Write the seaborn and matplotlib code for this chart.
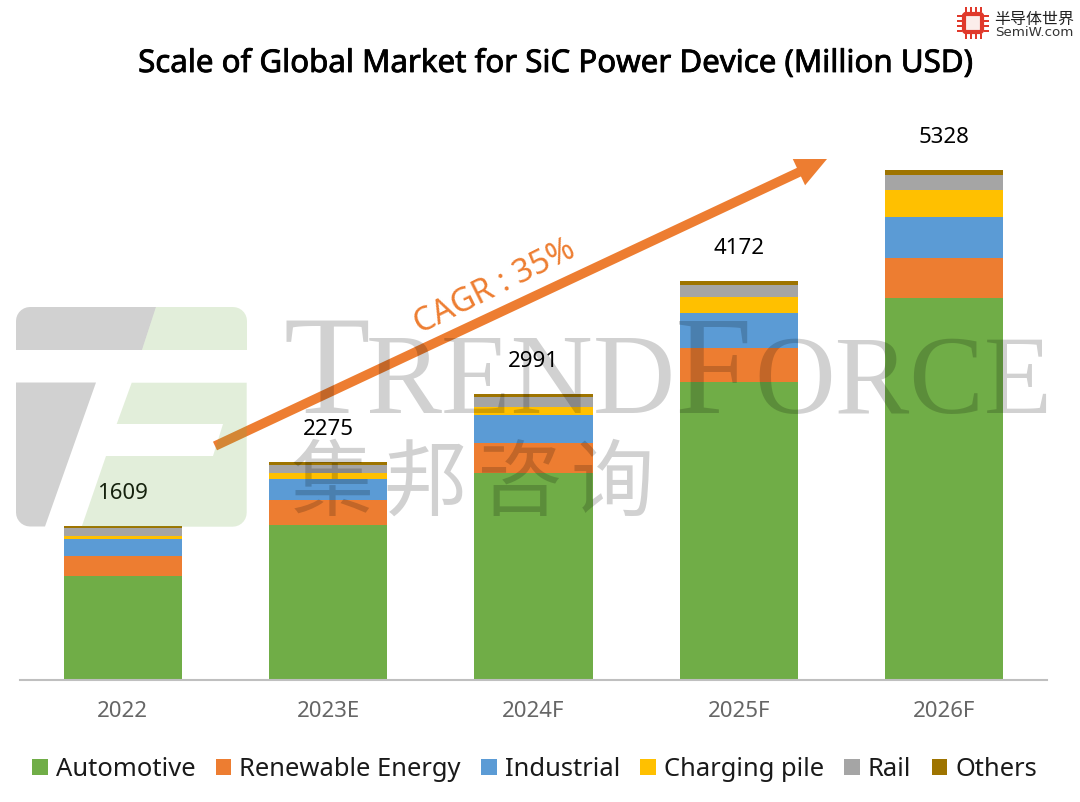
import matplotlib
matplotlib.use('Agg')
import matplotlib.pyplot as plt
import matplotlib.patheffects as pe
from matplotlib.patches import FancyArrow, FancyBboxPatch, Polygon, Rectangle
import numpy as np
import seaborn as sns

years = ['2022', '2023E', '2024F', '2025F', '2026F']
totals = [1609, 2275, 2991, 4172, 5328]

automotive = [1087, 1620, 2166, 3111, 3995]
renewable = [212, 258, 307, 358, 415]
industrial = [175, 223, 293, 366, 432]
charging = [35, 60, 84, 167, 282]
rail = [80, 87, 105, 122, 154]
others = [20, 27, 36, 48, 50]

series_names = ['Automotive', 'Renewable Energy', 'Industrial', 'Charging pile', 'Rail', 'Others']
series_values = [automotive, renewable, industrial, charging, rail, others]
series_colors = ['#70AD47', '#ED7D31', '#5B9BD5', '#FFC000', '#A5A5A5', '#9E7400']

sns.set_theme(style='white')
plt.rcParams['font.family'] = ['Noto Sans', 'Noto Sans CJK TC', 'DejaVu Sans']

W, H = 1080, 802
fig = plt.figure(figsize=(W / 100, H / 100), dpi=100)
fig.patch.set_facecolor('white')


def corner(cx, cy, r, a0, a1):
    # rounded corner points for the logo shapes
    t = np.radians(np.linspace(a0, a1, 8))
    return list(zip(cx + r * np.cos(t), cy + r * np.sin(t)))


# chart axes: x 20..1047, baseline at y=680 px
ax = fig.add_axes([20 / W, 1 - 680 / H, 1027 / W, 580 / H])
ax.patch.set_alpha(0)

bottom = np.zeros(len(years))
for name, vals, col in zip(series_names, series_values, series_colors):
    sns.barplot(x=years, y=vals, bottom=bottom, color=col, saturation=1, width=0.575,
                label=name, linewidth=0, ax=ax, zorder=2)
    bottom = bottom + np.array(vals)

ax.set_xlim(-0.5, 4.5)
ax.set_ylim(0, 580 / 0.0957)
ax.set_yticks([])
ax.set_ylabel('')
sns.despine(ax=ax, left=True)
ax.spines['bottom'].set_color('#BFBFBF')
ax.spines['bottom'].set_linewidth(1.5)
ax.tick_params(axis='x', length=0, pad=15, labelsize=16, labelcolor='#666666')

# totals above the bars
for i, t in enumerate(totals):
    ax.annotate(str(t), (i, t), xytext=(0, 23.5), textcoords='offset points',
                ha='center', va='center', fontsize=16, color='black', zorder=6)

ax.legend(loc='center left', bbox_to_anchor=(12 / 1027, -0.1545), ncol=6, frameon=False, fontsize=18.4,
          handlelength=0.62, handleheight=0.62, handletextpad=0.3, columnspacing=0.8,
          borderaxespad=0, borderpad=0, labelcolor='#1a1a1a')

# overlay in pixel coordinates for arrow, watermark and badge
ov = fig.add_axes([0, 0, 1, 1], zorder=5)
ov.set_xlim(0, W)
ov.set_ylim(H, 0)
ov.axis('off')
ov.patch.set_alpha(0)

ov.add_patch(FancyArrow(215, 446, 612, -287, width=9.5, head_width=29, head_length=31,
                        length_includes_head=True, color='#ED7D31', lw=0, zorder=1))
ov.text(495, 287, 'CAGR : 35%', color='#ED7D31', fontsize=23.5, rotation=26.5,
        rotation_mode='anchor', ha='center', va='center', zorder=2)

# TrendForce logo
gray_kw = dict(facecolor='black', alpha=0.18, lw=0, zorder=3)
green_kw = dict(facecolor='#70AD47', alpha=0.2, lw=0, zorder=3)
ov.add_patch(Polygon([(16, 350)] + corner(30, 321, 14, 180, 270) + [(156, 307), (142, 350)], **gray_kw))
ov.add_patch(Polygon([(156, 307)] + corner(233, 321, 14, 270, 360) + [(247, 350), (142, 350)], **green_kw))
ov.add_patch(Polygon([(16, 382.5), (96, 382.5), (45, 526.5)] + corner(30, 512.5, 14, 90, 180), **gray_kw))
ov.add_patch(Polygon([(131.7, 382.7), (246.7, 382.7)] + corner(232.7, 512.7, 14, 0, 90)
                     + [(81.7, 526.7), (106, 456), (213, 456), (223, 424), (116.7, 424)], **green_kw))

# TRENDFORCE wordmark, small caps built from separate pieces
mark_kw = dict(family='Liberation Serif', color='black', alpha=0.18, va='baseline', ha='left', zorder=3)
ov.text(284, 413, 'T', fontsize=102, **mark_kw)
ov.text(366, 413, 'REND', fontsize=82, **mark_kw)
ov.text(675, 413, 'F', fontsize=100, **mark_kw)
ov.text(754, 413, 'ORCE', fontsize=80.5, **mark_kw)

for ch, cx in zip('集邦咨询', [332, 425, 520, 612]):
    ov.text(cx, 485, ch, family='Noto Sans CJK TC', fontsize=60, color='black', alpha=0.18,
            ha='center', va='center', zorder=3)

# SemiW badge
ov.add_patch(FancyBboxPatch((964, 14), 18, 18, boxstyle='round,pad=0,rounding_size=2', fc='#FBEDEA',
                            ec='#E0392B', lw=3, zorder=4))
for off in [-8, -3, 2, 7]:
    ov.add_patch(Rectangle((973 + off, 7), 1.6, 5, color='#E0392B', lw=0, zorder=4))
    ov.add_patch(Rectangle((973 + off, 34), 1.6, 5, color='#E0392B', lw=0, zorder=4))
    ov.add_patch(Rectangle((957, 23 + off), 5, 1.6, color='#E0392B', lw=0, zorder=4))
    ov.add_patch(Rectangle((984, 23 + off), 5, 1.6, color='#E0392B', lw=0, zorder=4))
ov.text(1034, 19, '半导体世界', family='Noto Sans CJK SC', fontsize=11.5, weight='medium',
        color='#222222', ha='center', va='center', zorder=4)
ov.text(1034.5, 33, 'SemiW.com', family='DejaVu Sans', fontsize=9.6, color='#333333',
        ha='center', va='center', zorder=4)

title = ov.text(556, 64, 'Scale of Global Market for SiC Power Device (Million USD)', fontsize=22.5,
                color='black', ha='center', va='center', zorder=6)
title.set_path_effects([pe.withStroke(linewidth=0.6, foreground='black')])

fig.savefig('out.png', dpi=100)
